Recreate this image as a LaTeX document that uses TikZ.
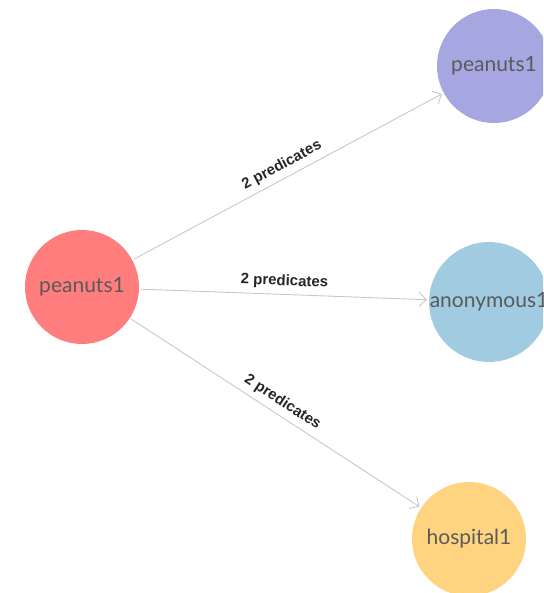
\documentclass[tikz,border=0pt]{standalone}
\usepackage{fontspec}
\setmainfont{Lato}
\newfontfamily\labelfont{Liberation Sans}
\usetikzlibrary{arrows.meta}
\definecolor{nodered}{RGB}{255,125,125}
\definecolor{nodepurple}{RGB}{166,166,224}
\definecolor{nodeblue}{RGB}{160,203,224}
\definecolor{nodeyellow}{RGB}{255,212,128}
\definecolor{nodetext}{RGB}{90,90,90}
\definecolor{edgegray}{RGB}{200,200,200}
\tikzset{
  entity/.style={circle, minimum size=114pt, inner sep=0pt,
    font=\fontsize{21}{24}\selectfont, text=nodetext},
  relation/.style={draw=edgegray, line width=0.9pt,
    -{Straight Barb[length=7pt, width=14pt]}, shorten >=2pt, shorten <=2pt},
  edgelabel/.style={midway, above=2pt, sloped,
    font=\labelfont\bfseries\fontsize{15}{17}\selectfont, text=black!85},
}
\begin{document}
\begin{tikzpicture}[x=1pt, y=-1pt]
  \useasboundingbox (0,0) rectangle (543,593);
  \clip (0,0) rectangle (543,593);
  \node[entity, fill=nodered]    (src)  at (82,287)  {peanuts1};
  \node[entity, fill=nodepurple] (dst1) at (494,66)  {peanuts1};
  \node[entity, fill=nodeblue]   (dst2) at (489,302) {anonymous1};
  \node[entity, fill=nodeyellow] (dst3) at (469,539) {hospital1};
  \draw[relation] (src) -- (dst1) node[edgelabel] {2 predicates};
  \draw[relation] (src) -- (dst2) node[edgelabel] {2 predicates};
  \draw[relation] (src) -- (dst3) node[edgelabel] {2 predicates};
\end{tikzpicture}
\end{document}
